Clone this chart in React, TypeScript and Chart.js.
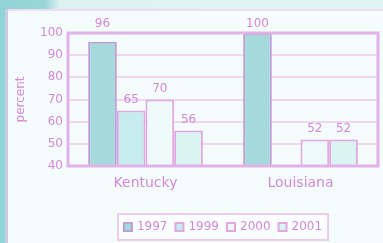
import React, { useEffect, useRef } from "react";
import { Chart, registerables } from "chart.js";

Chart.register(...registerables);

const categories = ["Kentucky", "Louisiana"];
const seriesNames = ["1997", "1999", "2000", "2001"];
const v1997 = [96, 100];
const v1999 = [65, null];
const v2000 = [70, 52];
const v2001 = [56, 52];
const yTicks = [40, 50, 60, 70, 80, 90, 100];

const TEXT = "#d488d8";
const FONT = "'DejaVu Sans', Verdana, sans-serif";
const fills = ["#a6d9dc", "#c6eced", "#effbfb", "#daf3f3"];
const borders = ["#bf9ed6", "#e2a6e2", "#e2a6e2", "#e2a6e2"];

const frameAndLabels = {
  id: "frameAndLabels",
  afterDatasetsDraw(chart: any) {
    const ctx = chart.ctx;
    const a = chart.chartArea;
    ctx.save();
    ctx.strokeStyle = "#e2b2e6";
    ctx.lineWidth = 3;
    ctx.strokeRect(a.left, a.top, a.right - a.left, a.bottom - a.top);
    ctx.fillStyle = TEXT;
    ctx.font = "12px " + FONT;
    ctx.textAlign = "center";
    ctx.textBaseline = "middle";
    chart.data.datasets.forEach((ds: any, i: number) => {
      const meta = chart.getDatasetMeta(i);
      meta.data.forEach((el: any, j: number) => {
        const v = ds.data[j];
        if (v === null || v === undefined) return;
        let y = el.y - 11;
        if (el.y - a.top < 15) y = a.top - 9;
        ctx.fillText(String(v), el.x, y);
      });
    });
    ctx.restore();
  },
  afterDraw(chart: any) {
    const ctx = chart.ctx;
    const a = chart.chartArea;
    ctx.save();
    ctx.font = "12px " + FONT;
    const box = 8;
    const gapBT = 5;
    const gapItem = 8;
    const ds = chart.data.datasets;
    const widths = ds.map((d: any) => box + gapBT + ctx.measureText(d.label).width);
    const total = widths.reduce((s: number, w: number) => s + w, 0) + gapItem * (ds.length - 1);
    const cx = (a.left + a.right) / 2;
    const cy = a.bottom + 61;
    let x = cx - total / 2;
    ctx.fillStyle = "#fafefe";
    ctx.fillRect(x - 6, cy - 13, total + 12, 26);
    ctx.strokeStyle = "#eccbee";
    ctx.lineWidth = 2;
    ctx.strokeRect(x - 6, cy - 13, total + 12, 26);
    ctx.textBaseline = "middle";
    ctx.textAlign = "left";
    ds.forEach((d: any, i: number) => {
      ctx.fillStyle = d.backgroundColor;
      ctx.fillRect(x, cy - box / 2, box, box);
      ctx.strokeStyle = d.borderColor;
      ctx.lineWidth = 2;
      ctx.strokeRect(x, cy - box / 2, box, box);
      ctx.fillStyle = TEXT;
      ctx.fillText(d.label, x + box + gapBT, cy);
      x += widths[i] + gapItem;
    });
    ctx.restore();
  },
};

export default function App() {
  const ref = useRef<HTMLCanvasElement | null>(null);
  useEffect(() => {
    const series = [v1997, v1999, v2000, v2001];
    const chart = new Chart(ref.current as HTMLCanvasElement, {
      type: "bar",
      data: {
        labels: categories,
        datasets: seriesNames.map((n, i) => ({
          label: n,
          data: series[i],
          backgroundColor: fills[i],
          borderColor: borders[i],
          borderWidth: 2,
          categoryPercentage: 0.74,
          barPercentage: 1.0,
        })),
      },
      options: {
        responsive: false,
        animation: false,
        devicePixelRatio: 1,
        layout: { padding: { top: 33, right: 5, left: 0, bottom: 0 } },
        plugins: { legend: { display: false }, tooltip: { enabled: false } },
        scales: {
          y: {
            min: 40,
            max: 100,
            afterBuildTicks: (s: any) => {
              s.ticks = yTicks.map((v) => ({ value: v }));
            },
            afterFit: (s: any) => {
              s.width = 68;
            },
            ticks: { color: TEXT, font: { size: 12, family: FONT }, padding: 5 },
            grid: { color: "#f0d6f0", lineWidth: 2, drawTicks: false },
            border: { display: false },
            title: {
              display: true,
              text: "percent",
              color: TEXT,
              font: { size: 12, family: FONT },
              padding: { top: 14, bottom: 0 },
            },
          },
          x: {
            afterFit: (s: any) => {
              s.height = 77;
            },
            ticks: { color: TEXT, font: { size: 14, family: FONT }, padding: 9 },
            grid: { display: false, drawTicks: false },
            border: { display: false },
          },
        },
      },
      plugins: [frameAndLabels],
    } as any);
    return () => chart.destroy();
  }, []);

  return (
    <div
      style={{
        position: "fixed",
        left: 0,
        top: 0,
        width: 383,
        height: 243,
        background: "#f4fcfc",
        overflow: "hidden",
      }}
    >
      <div style={{ position: "absolute", left: 0, top: 0, width: 383, height: 9, background: "linear-gradient(90deg, #8fd3d6 0px, #9ad6d8 45px, #dff2f2 60px, #e2f3f3 383px)" }} />
      <div style={{ position: "absolute", left: 8, top: 9, width: 375, height: 2, background: "#f0dcf0" }} />
      <div style={{ position: "absolute", left: 0, top: 0, width: 5, height: 243, background: "#8fd4d8" }} />
      <div style={{ position: "absolute", left: 5, top: 9, width: 3, height: 234, background: "#c8cbe2" }} />
      <canvas ref={ref} width={383} height={243} style={{ position: "absolute", left: 0, top: 0 }} />
    </div>
  );
}
